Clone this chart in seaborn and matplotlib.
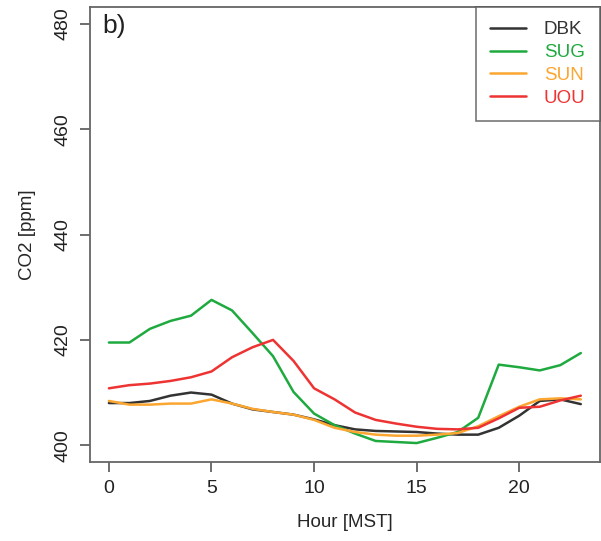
import matplotlib
matplotlib.use('Agg')
import matplotlib.pyplot as plt
import seaborn as sns
import pandas as pd

hours = list(range(24))
sites = ['DBK', 'SUG', 'SUN', 'UOU']
dbk = [408.0, 408.0, 408.4, 409.4, 410.0, 409.6, 407.9, 406.8, 406.3, 405.8, 404.9, 403.8,
       403.0, 402.7, 402.6, 402.5, 402.2, 402.0, 402.0, 403.3, 405.6, 408.4, 408.7, 407.8]
sug = [419.5, 419.5, 422.1, 423.6, 424.6, 427.6, 425.6, 421.3, 416.9, 410.1, 406.0, 403.8,
       402.2, 400.8, 400.6, 400.4, 401.4, 402.5, 405.2, 415.3, 414.8, 414.2, 415.2, 417.5]
sun = [408.4, 407.7, 407.7, 407.9, 407.9, 408.7, 407.9, 406.9, 406.3, 405.8, 404.8, 403.3,
       402.5, 402.0, 401.8, 401.8, 402.0, 402.3, 403.6, 405.5, 407.3, 408.7, 408.9, 408.7]
uou = [410.8, 411.4, 411.7, 412.2, 412.9, 414.0, 416.7, 418.6, 420.0, 416.0, 410.8, 408.7,
       406.2, 404.8, 404.1, 403.5, 403.1, 403.0, 403.3, 405.1, 407.1, 407.3, 408.5, 409.4]
colors = ['#333333', '#1faa3f', '#fba630', '#ee3333']
xticks = [0, 5, 10, 15, 20]
yticks = [400, 420, 440, 460, 480]

df = pd.DataFrame({
    'hour': hours * 4,
    'co2': dbk + sug + sun + uou,
    'site': [s for s in sites for _ in hours],
})

sns.set_style('ticks')
plt.rcParams['font.family'] = ['Liberation Sans', 'DejaVu Sans']
plt.rcParams['text.color'] = '#222222'

fig = plt.figure(figsize=(6.01, 5.41), dpi=100)
ax = fig.add_axes([0.1498, 0.146, 0.848, 0.8407])

sns.lineplot(data=df, x='hour', y='co2', hue='site', palette=dict(zip(sites, colors)),
             linewidth=1.8, ax=ax)

ax.set_xlim(-0.92, 23.92)
ax.set_ylim(396.8, 483.2)
ax.set_xticks(xticks)
ax.set_yticks(yticks)
ax.set_yticklabels([str(v) for v in yticks], rotation=90, va='center')
ax.tick_params(axis='both', length=7, width=1.2, color='#555555', labelsize=14,
               labelcolor='#222222', pad=6)
for sp in ax.spines.values():
    sp.set_color('#666666')
    sp.set_linewidth(1.3)
ax.set_xlabel('Hour [MST]', fontsize=13.5, labelpad=12)
ax.set_ylabel('CO2 [ppm]', fontsize=13.5, labelpad=14)

ax.text(0.025, 0.985, 'b)', transform=ax.transAxes, fontsize=19, va='top', ha='left')

leg = ax.legend(loc='upper right', borderaxespad=0, fontsize=13.5, frameon=True,
                fancybox=False, handlelength=1.9, handletextpad=0.95, borderpad=0.75,
                labelspacing=0.3, title=None, bbox_to_anchor=(1.0, 1.0))
leg.get_frame().set_edgecolor('#555555')
leg.get_frame().set_linewidth(1.2)
for txt, c in zip(leg.get_texts(), colors):
    txt.set_color(c)
for ln in leg.get_lines():
    ln.set_linewidth(1.8)

fig.savefig('out.png', dpi=100)
